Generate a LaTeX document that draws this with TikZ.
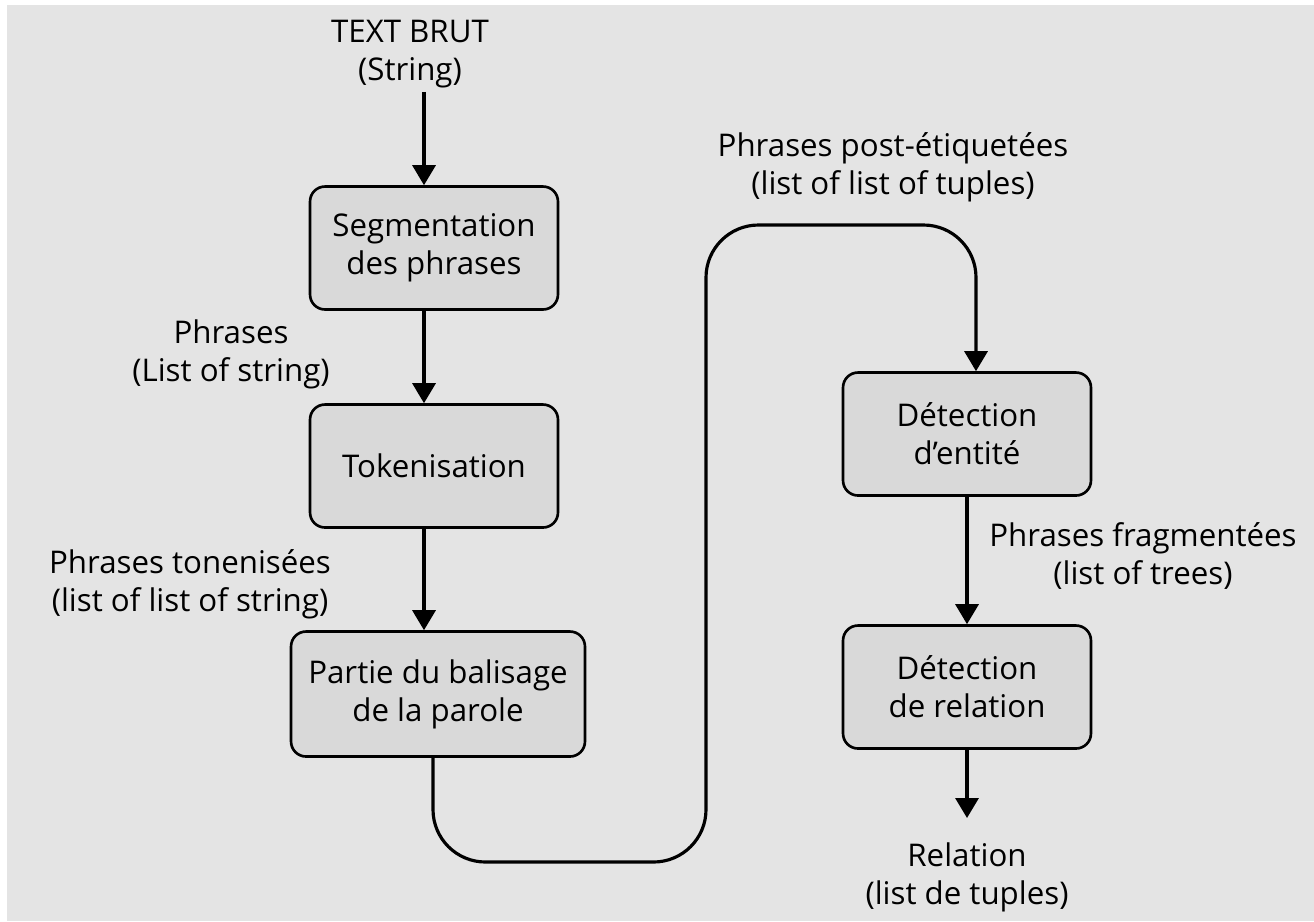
\documentclass[tikz,border=0pt]{standalone}
\usepackage{fontspec}
\setmainfont{Open Sans}
\usetikzlibrary{arrows.meta}
\definecolor{bggray}{HTML}{E4E4E4}
\definecolor{boxgray}{HTML}{D9D9D9}
\begin{document}
\begin{tikzpicture}[x=0.02cm,y=-0.02cm,font=\fontsize{17.8}{21.6}\selectfont]
        \tikzstyle{stage} = [draw=black,line width=1.5pt,fill=boxgray,rounded corners=0.3cm,minimum width=4.96cm,minimum height=2.46cm,align=center]
        \tikzstyle{data} = [align=center,inner sep=2pt]
        \tikzstyle{flow} = [line width=1.8pt,-{Triangle[length=0.4cm,width=0.46cm]}]

        \useasboundingbox (0,0) rectangle (1314,921);
        \fill[bggray] (7,5) rectangle (1314,921);


        \node[stage] (seg) at (434,248) {Segmentation\\des phrases};
        \node[stage] (tok) at (434,466) {Tokenisation};
        \node[stage,minimum width=5.88cm,minimum height=2.5cm] (part) at (438,694) {Partie du balisage\\de la parole};
        \node[stage] (ent) at (967,434) {Détection\\d'entité};
        \node[stage] (rel) at (967,687) {Détection\\de relation};


        \node[data] (raw) at (410,54) {TEXT BRUT\\(String)};
        \node[data] (phr) at (231,354) {Phrases\\(List of string)};
        \node[data] (tokd) at (190,584) {Phrases tonenisées\\(list of list of string)};
        \node[data] (tagd) at (893,167) {Phrases post-étiquetées\\(list of list of tuples)};
        \node[data] (chunkd) at (1143,556) {Phrases fragmentées\\(list of trees)};
        \node[data] (out) at (967,877) {Relation\\(list de tuples)};


        \coordinate (col) at (424,0);
        \coordinate (dip) at (706,862);
        \coordinate (rise) at (706,225);
        \coordinate (outtip) at (967,818);


        \draw[flow] (raw.south -| col) -- (seg.north -| col);
        \draw[flow] (seg.south -| col) -- (tok.north -| col);
        \draw[flow] (tok.south -| col) -- (part.north -| col);


        \draw[flow,rounded corners=1.05cm] ([xshift=-0.1cm]part.south) |- (dip) -- (rise) -| ([xshift=0.18cm]ent.north);


        \draw[flow] (ent) -- (rel);
        \draw[flow] (rel) -- (outtip);

\end{tikzpicture}
\end{document}
